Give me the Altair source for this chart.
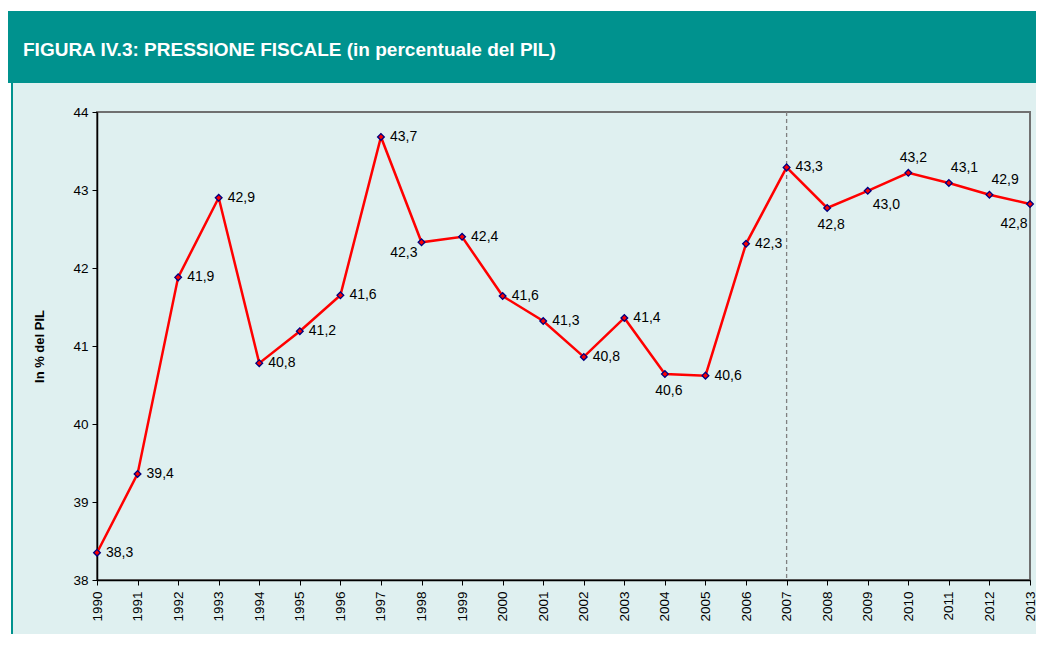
import altair as alt
import pandas as pd

years = list(range(1990, 2014))
values = [38.35, 39.36, 41.88, 42.90, 40.78, 41.19, 41.65, 43.68, 42.33, 42.40,
          41.64, 41.32, 40.86, 41.36, 40.64, 40.62, 42.31, 43.29, 42.77, 42.99,
          43.22, 43.09, 42.94, 42.82]
labels = ["38,3", "39,4", "41,9", "42,9", "40,8", "41,2", "41,6", "43,7", "42,3", "42,4",
          "41,6", "41,3", "40,8", "41,4", "40,6", "40,6", "42,3", "43,3", "42,8", "43,0",
          "43,2", "43,1", "42,9", "42,8"]
placement = ["right", "right", "right", "right", "right", "right", "right", "right", "leftbelow", "right",
             "right", "right", "right", "right", "below", "right", "right", "right", "below", "belowright",
             "above", "aboveright", "aboveright", "belowleft"]
y_ticks = [38, 39, 40, 41, 42, 43, 44]
title_text = "FIGURA IV.3: PRESSIONE FISCALE (in percentuale del PIL)"
y_title = "In % del PIL"
split_year = [2007]

df = pd.DataFrame({"anno": years, "valore": values, "etichetta": labels, "pos": placement})
one = pd.DataFrame({"t": [title_text]})
split = pd.DataFrame({"anno": split_year})

RED = "#ff0000"
HEADER = "#00928e"
BG = "#dff0f0"
FONT = "Liberation Sans"

x_enc = alt.X("anno:Q", scale=alt.Scale(domain=[1990, 2013], nice=False, zero=False),
              axis=alt.Axis(values=years, format="d", labelAngle=270, title=None,
                            grid=False, tickSize=5, labelPadding=6, labelFontSize=13.5,
                            labelColor="black", domainColor="black", tickColor="black",
                            labelFont=FONT, domainWidth=1.5))
y_enc = alt.Y("valore:Q", scale=alt.Scale(domain=[38, 44], nice=False, zero=False),
              axis=alt.Axis(values=y_ticks, format="d", title=y_title, grid=False,
                            tickSize=5, labelPadding=4, labelFontSize=13.5, labelColor="black",
                            domainColor="black", tickColor="black", labelFont=FONT,
                            titleFont=FONT, titleFontSize=13, titleFontWeight="bold",
                            titleColor="black", titlePadding=26, domainWidth=1.5))

base = alt.Chart(df)

header = alt.Chart(one).mark_rect(color=HEADER).encode(
    x=alt.value(-89), x2=alt.value(939), y=alt.value(-101), y2=alt.value(-29))
white_top = alt.Chart(one).mark_rect(color="white").encode(
    x=alt.value(-89), x2=alt.value(939), y=alt.value(-104), y2=alt.value(-101))
white_left = alt.Chart(one).mark_rect(color="white").encode(
    x=alt.value(-89), x2=alt.value(-86), y=alt.value(-29), y2=alt.value(522))
teal_left = alt.Chart(one).mark_rect(color=HEADER).encode(
    x=alt.value(-86), x2=alt.value(-84), y=alt.value(-29), y2=alt.value(522))
title = alt.Chart(one).mark_text(align="left", baseline="alphabetic", color="white",
                                 font="'Liberation Sans Narrow', 'Liberation Sans', sans-serif",
                                 fontSize=19, fontWeight="bold").encode(
    x=alt.value(-74), y=alt.value(-56), text="t:N")

rule = alt.Chart(split).mark_rule(color="#808080", strokeDash=[4, 3], strokeWidth=1.3).encode(
    x=alt.X("anno:Q", scale=alt.Scale(domain=[1990, 2013], nice=False, zero=False)))

line = base.mark_line(color=RED, strokeWidth=2.5).encode(x=x_enc, y=y_enc)
pts = base.mark_point(shape="diamond", filled=True, fill=RED, stroke="#000080",
                      strokeWidth=1.3, size=45, opacity=1).encode(x="anno:Q", y="valore:Q")

def lab(pos, align, dx, dy):
    return base.transform_filter(alt.datum.pos == pos).mark_text(
        align=align, baseline="middle", dx=dx, dy=dy, fontSize=14, font=FONT, color="black"
    ).encode(x="anno:Q", y="valore:Q", text="etichetta:N")

labs = [
    lab("right", "left", 9, 0),
    lab("leftbelow", "right", -4, 11),
    lab("below", "center", 4, 17),
    lab("belowright", "left", 5, 14),
    lab("above", "center", 5, -15),
    lab("aboveright", "left", 2, -15),
    lab("belowleft", "center", -16, 20),
]

chart = alt.layer(header, white_top, white_left, teal_left, title, line, rule, pts, *labs).properties(
    width=933, height=468,
    autosize=alt.AutoSizeParams(type="none"),
    padding={"left": 89, "top": 104, "right": 6, "bottom": 54},
    background=BG,
).configure_view(stroke="#707070", strokeWidth=2, fill=None)

chart.save("out.html", embed_options={"renderer": "svg", "actions": False})
